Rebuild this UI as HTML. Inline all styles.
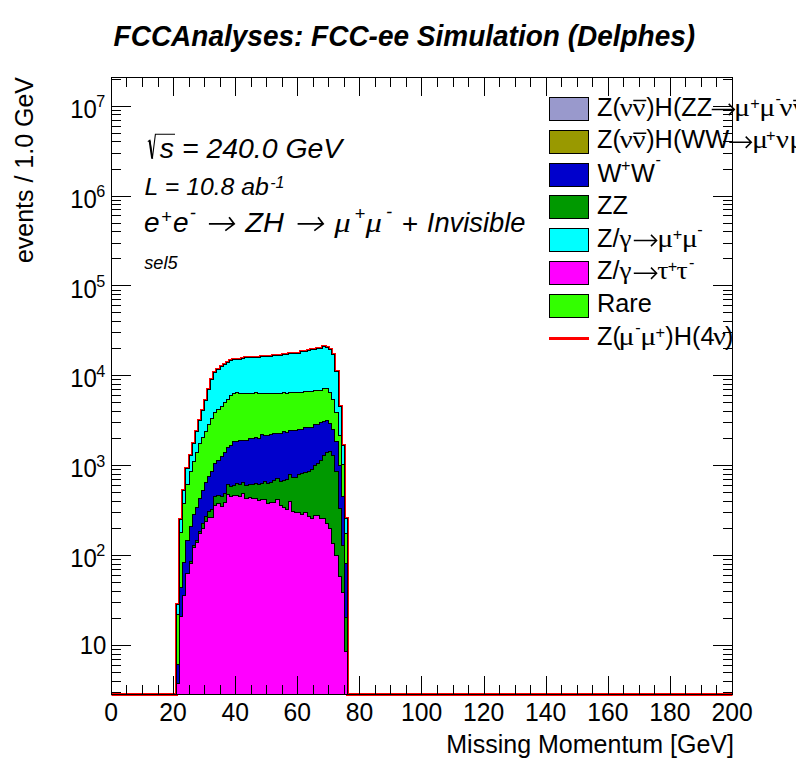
<!DOCTYPE html>
<html><head><meta charset="utf-8"><title>plot</title>
<style>html,body{margin:0;padding:0;background:#fff}body{width:796px;height:772px;position:relative;overflow:hidden;font-family:"Liberation Sans",sans-serif}</style>
</head><body>
<svg width="796" height="772" viewBox="0 0 796 772" style="position:absolute;left:0;top:0">
<rect width="796" height="772" fill="#fff"/>
<path d="M111.5,694.5 L176.5,694.5 L176.5,604.5 L179.5,604.5 L179.5,519.5 L182.5,519.5 L182.5,490.5 L185.5,490.5 L185.5,468.5 L189.5,468.5 L189.5,455.5 L192.5,455.5 L192.5,443.5 L195.5,443.5 L195.5,431.5 L198.5,431.5 L198.5,420.5 L201.5,420.5 L201.5,410.5 L204.5,410.5 L204.5,400.5 L207.5,400.5 L207.5,389.5 L210.5,389.5 L210.5,379.5 L213.5,379.5 L213.5,372.5 L216.5,372.5 L216.5,369.5 L220.5,369.5 L220.5,366.5 L223.5,366.5 L223.5,364.5 L226.5,364.5 L226.5,362.5 L229.5,362.5 L229.5,360.5 L232.5,360.5 L232.5,359.5 L235.5,359.5 L235.5,359.5 L238.5,359.5 L238.5,359.5 L241.5,359.5 L241.5,358.5 L244.5,358.5 L244.5,357.5 L248.5,357.5 L248.5,357.5 L251.5,357.5 L251.5,357.5 L254.5,357.5 L254.5,357.5 L257.5,357.5 L257.5,357.5 L260.5,357.5 L260.5,356.5 L263.5,356.5 L263.5,356.5 L266.5,356.5 L266.5,356.5 L269.5,356.5 L269.5,356.5 L272.5,356.5 L272.5,355.5 L275.5,355.5 L275.5,355.5 L279.5,355.5 L279.5,355.5 L282.5,355.5 L282.5,354.5 L285.5,354.5 L285.5,354.5 L288.5,354.5 L288.5,353.5 L291.5,353.5 L291.5,353.5 L294.5,353.5 L294.5,353.5 L297.5,353.5 L297.5,353.5 L300.5,353.5 L300.5,351.5 L303.5,351.5 L303.5,351.5 L307.5,351.5 L307.5,350.5 L310.5,350.5 L310.5,349.5 L313.5,349.5 L313.5,349.5 L316.5,349.5 L316.5,348.5 L319.5,348.5 L319.5,348.5 L322.5,348.5 L322.5,346.5 L325.5,346.5 L325.5,347.5 L328.5,347.5 L328.5,349.5 L331.5,349.5 L331.5,354.5 L334.5,354.5 L334.5,371.5 L338.5,371.5 L338.5,406.5 L341.5,406.5 L341.5,445.5 L344.5,445.5 L344.5,518.5 L347.5,518.5 L347.5,694.5 L732.5,694.5" fill="none" stroke="#ff0000" stroke-width="3" stroke-linejoin="miter"/>
<path d="M176.5,694.5 L176.5,604.5 L179.5,604.5 L179.5,519.5 L182.5,519.5 L182.5,490.5 L185.5,490.5 L185.5,468.5 L189.5,468.5 L189.5,455.5 L192.5,455.5 L192.5,443.5 L195.5,443.5 L195.5,431.5 L198.5,431.5 L198.5,420.5 L201.5,420.5 L201.5,410.5 L204.5,410.5 L204.5,400.5 L207.5,400.5 L207.5,389.5 L210.5,389.5 L210.5,379.5 L213.5,379.5 L213.5,372.5 L216.5,372.5 L216.5,369.5 L220.5,369.5 L220.5,366.5 L223.5,366.5 L223.5,364.5 L226.5,364.5 L226.5,362.5 L229.5,362.5 L229.5,360.5 L232.5,360.5 L232.5,359.5 L235.5,359.5 L235.5,359.5 L238.5,359.5 L238.5,359.5 L241.5,359.5 L241.5,358.5 L244.5,358.5 L244.5,357.5 L248.5,357.5 L248.5,357.5 L251.5,357.5 L251.5,357.5 L254.5,357.5 L254.5,357.5 L257.5,357.5 L257.5,357.5 L260.5,357.5 L260.5,356.5 L263.5,356.5 L263.5,356.5 L266.5,356.5 L266.5,356.5 L269.5,356.5 L269.5,356.5 L272.5,356.5 L272.5,355.5 L275.5,355.5 L275.5,355.5 L279.5,355.5 L279.5,355.5 L282.5,355.5 L282.5,354.5 L285.5,354.5 L285.5,354.5 L288.5,354.5 L288.5,353.5 L291.5,353.5 L291.5,353.5 L294.5,353.5 L294.5,353.5 L297.5,353.5 L297.5,353.5 L300.5,353.5 L300.5,351.5 L303.5,351.5 L303.5,351.5 L307.5,351.5 L307.5,350.5 L310.5,350.5 L310.5,349.5 L313.5,349.5 L313.5,349.5 L316.5,349.5 L316.5,348.5 L319.5,348.5 L319.5,348.5 L322.5,348.5 L322.5,346.5 L325.5,346.5 L325.5,347.5 L328.5,347.5 L328.5,349.5 L331.5,349.5 L331.5,354.5 L334.5,354.5 L334.5,371.5 L338.5,371.5 L338.5,406.5 L341.5,406.5 L341.5,445.5 L344.5,445.5 L344.5,518.5 L347.5,518.5 L347.5,694.5 Z" fill="#00ffff" stroke="#000" stroke-width="1" stroke-linejoin="miter" shape-rendering="crispEdges"/>
<path d="M176.5,694.5 L176.5,614.5 L179.5,614.5 L179.5,532.5 L182.5,532.5 L182.5,503.5 L185.5,503.5 L185.5,484.5 L189.5,484.5 L189.5,471.5 L192.5,471.5 L192.5,461.5 L195.5,461.5 L195.5,452.5 L198.5,452.5 L198.5,443.5 L201.5,443.5 L201.5,437.5 L204.5,437.5 L204.5,431.5 L207.5,431.5 L207.5,424.5 L210.5,424.5 L210.5,418.5 L213.5,418.5 L213.5,412.5 L216.5,412.5 L216.5,409.5 L220.5,409.5 L220.5,406.5 L223.5,406.5 L223.5,402.5 L226.5,402.5 L226.5,399.5 L229.5,399.5 L229.5,395.5 L232.5,395.5 L232.5,393.5 L235.5,393.5 L235.5,392.5 L238.5,392.5 L238.5,393.5 L241.5,393.5 L241.5,393.5 L244.5,393.5 L244.5,393.5 L248.5,393.5 L248.5,393.5 L251.5,393.5 L251.5,393.5 L254.5,393.5 L254.5,392.5 L257.5,392.5 L257.5,393.5 L260.5,393.5 L260.5,393.5 L263.5,393.5 L263.5,393.5 L266.5,393.5 L266.5,393.5 L269.5,393.5 L269.5,393.5 L272.5,393.5 L272.5,393.5 L275.5,393.5 L275.5,393.5 L279.5,393.5 L279.5,393.5 L282.5,393.5 L282.5,392.5 L285.5,392.5 L285.5,393.5 L288.5,393.5 L288.5,392.5 L291.5,392.5 L291.5,392.5 L294.5,392.5 L294.5,392.5 L297.5,392.5 L297.5,392.5 L300.5,392.5 L300.5,392.5 L303.5,392.5 L303.5,391.5 L307.5,391.5 L307.5,391.5 L310.5,391.5 L310.5,391.5 L313.5,391.5 L313.5,390.5 L316.5,390.5 L316.5,390.5 L319.5,390.5 L319.5,390.5 L322.5,390.5 L322.5,388.5 L325.5,388.5 L325.5,388.5 L328.5,388.5 L328.5,392.5 L331.5,392.5 L331.5,399.5 L334.5,399.5 L334.5,412.5 L338.5,412.5 L338.5,435.5 L341.5,435.5 L341.5,464.5 L344.5,464.5 L344.5,533.5 L347.5,533.5 L347.5,694.5 Z" fill="#33ff00" stroke="#000" stroke-width="1" stroke-linejoin="miter" shape-rendering="crispEdges"/>
<path d="M176.5,694.5 L176.5,664.5 L179.5,664.5 L179.5,587.5 L182.5,587.5 L182.5,562.5 L185.5,562.5 L185.5,540.5 L189.5,540.5 L189.5,526.5 L192.5,526.5 L192.5,514.5 L195.5,514.5 L195.5,507.5 L198.5,507.5 L198.5,498.5 L201.5,498.5 L201.5,490.5 L204.5,490.5 L204.5,482.5 L207.5,482.5 L207.5,476.5 L210.5,476.5 L210.5,471.5 L213.5,471.5 L213.5,463.5 L216.5,463.5 L216.5,460.5 L220.5,460.5 L220.5,456.5 L223.5,456.5 L223.5,452.5 L226.5,452.5 L226.5,447.5 L229.5,447.5 L229.5,445.5 L232.5,445.5 L232.5,441.5 L235.5,441.5 L235.5,441.5 L238.5,441.5 L238.5,440.5 L241.5,440.5 L241.5,440.5 L244.5,440.5 L244.5,440.5 L248.5,440.5 L248.5,438.5 L251.5,438.5 L251.5,438.5 L254.5,438.5 L254.5,437.5 L257.5,437.5 L257.5,438.5 L260.5,438.5 L260.5,434.5 L263.5,434.5 L263.5,435.5 L266.5,435.5 L266.5,435.5 L269.5,435.5 L269.5,434.5 L272.5,434.5 L272.5,433.5 L275.5,433.5 L275.5,433.5 L279.5,433.5 L279.5,433.5 L282.5,433.5 L282.5,431.5 L285.5,431.5 L285.5,432.5 L288.5,432.5 L288.5,430.5 L291.5,430.5 L291.5,430.5 L294.5,430.5 L294.5,430.5 L297.5,430.5 L297.5,429.5 L300.5,429.5 L300.5,429.5 L303.5,429.5 L303.5,427.5 L307.5,427.5 L307.5,427.5 L310.5,427.5 L310.5,427.5 L313.5,427.5 L313.5,424.5 L316.5,424.5 L316.5,424.5 L319.5,424.5 L319.5,422.5 L322.5,422.5 L322.5,421.5 L325.5,421.5 L325.5,420.5 L328.5,420.5 L328.5,423.5 L331.5,423.5 L331.5,429.5 L334.5,429.5 L334.5,441.5 L338.5,441.5 L338.5,465.5 L341.5,465.5 L341.5,496.5 L344.5,496.5 L344.5,563.5 L347.5,563.5 L347.5,694.5 Z" fill="#0000cc" stroke="#000" stroke-width="1" stroke-linejoin="miter" shape-rendering="crispEdges"/>
<path d="M176.5,694.5 L176.5,683.5 L179.5,683.5 L179.5,616.5 L182.5,616.5 L182.5,595.5 L185.5,595.5 L185.5,573.5 L189.5,573.5 L189.5,561.5 L192.5,561.5 L192.5,545.5 L195.5,545.5 L195.5,540.5 L198.5,540.5 L198.5,531.5 L201.5,531.5 L201.5,523.5 L204.5,523.5 L204.5,516.5 L207.5,516.5 L207.5,511.5 L210.5,511.5 L210.5,509.5 L213.5,509.5 L213.5,496.5 L216.5,496.5 L216.5,495.5 L220.5,495.5 L220.5,496.5 L223.5,496.5 L223.5,493.5 L226.5,493.5 L226.5,484.5 L229.5,484.5 L229.5,486.5 L232.5,486.5 L232.5,485.5 L235.5,485.5 L235.5,483.5 L238.5,483.5 L238.5,484.5 L241.5,484.5 L241.5,482.5 L244.5,482.5 L244.5,485.5 L248.5,485.5 L248.5,484.5 L251.5,484.5 L251.5,484.5 L254.5,484.5 L254.5,483.5 L257.5,483.5 L257.5,484.5 L260.5,484.5 L260.5,483.5 L263.5,483.5 L263.5,481.5 L266.5,481.5 L266.5,483.5 L269.5,483.5 L269.5,482.5 L272.5,482.5 L272.5,480.5 L275.5,480.5 L275.5,478.5 L279.5,478.5 L279.5,481.5 L282.5,481.5 L282.5,480.5 L285.5,480.5 L285.5,479.5 L288.5,479.5 L288.5,474.5 L291.5,474.5 L291.5,477.5 L294.5,477.5 L294.5,477.5 L297.5,477.5 L297.5,474.5 L300.5,474.5 L300.5,473.5 L303.5,473.5 L303.5,472.5 L307.5,472.5 L307.5,471.5 L310.5,471.5 L310.5,469.5 L313.5,469.5 L313.5,465.5 L316.5,465.5 L316.5,463.5 L319.5,463.5 L319.5,460.5 L322.5,460.5 L322.5,455.5 L325.5,455.5 L325.5,452.5 L328.5,452.5 L328.5,451.5 L331.5,451.5 L331.5,455.5 L334.5,455.5 L334.5,471.5 L338.5,471.5 L338.5,508.5 L341.5,508.5 L341.5,545.5 L344.5,545.5 L344.5,617.5 L347.5,617.5 L347.5,694.5 Z" fill="#009900" stroke="#000" stroke-width="1" stroke-linejoin="miter" shape-rendering="crispEdges"/>
<path d="M176.5,694.5 L176.5,683.5 L179.5,683.5 L179.5,616.5 L182.5,616.5 L182.5,595.5 L185.5,595.5 L185.5,573.5 L189.5,573.5 L189.5,563.5 L192.5,563.5 L192.5,547.5 L195.5,547.5 L195.5,542.5 L198.5,542.5 L198.5,533.5 L201.5,533.5 L201.5,528.5 L204.5,528.5 L204.5,521.5 L207.5,521.5 L207.5,517.5 L210.5,517.5 L210.5,517.5 L213.5,517.5 L213.5,505.5 L216.5,505.5 L216.5,503.5 L220.5,503.5 L220.5,506.5 L223.5,506.5 L223.5,502.5 L226.5,502.5 L226.5,494.5 L229.5,494.5 L229.5,496.5 L232.5,496.5 L232.5,495.5 L235.5,495.5 L235.5,495.5 L238.5,495.5 L238.5,496.5 L241.5,496.5 L241.5,493.5 L244.5,493.5 L244.5,498.5 L248.5,498.5 L248.5,497.5 L251.5,497.5 L251.5,498.5 L254.5,498.5 L254.5,498.5 L257.5,498.5 L257.5,500.5 L260.5,500.5 L260.5,499.5 L263.5,499.5 L263.5,499.5 L266.5,499.5 L266.5,503.5 L269.5,503.5 L269.5,502.5 L272.5,502.5 L272.5,502.5 L275.5,502.5 L275.5,499.5 L279.5,499.5 L279.5,505.5 L282.5,505.5 L282.5,507.5 L285.5,507.5 L285.5,509.5 L288.5,509.5 L288.5,501.5 L291.5,501.5 L291.5,511.5 L294.5,511.5 L294.5,512.5 L297.5,512.5 L297.5,512.5 L300.5,512.5 L300.5,514.5 L303.5,514.5 L303.5,512.5 L307.5,512.5 L307.5,516.5 L310.5,516.5 L310.5,518.5 L313.5,518.5 L313.5,515.5 L316.5,515.5 L316.5,515.5 L319.5,515.5 L319.5,518.5 L322.5,518.5 L322.5,518.5 L325.5,518.5 L325.5,523.5 L328.5,523.5 L328.5,528.5 L331.5,528.5 L331.5,543.5 L334.5,543.5 L334.5,555.5 L338.5,555.5 L338.5,576.5 L341.5,576.5 L341.5,592.5 L344.5,592.5 L344.5,651.5 L347.5,651.5 L347.5,694.5 Z" fill="#ff00ff" stroke="#000" stroke-width="1" stroke-linejoin="miter" shape-rendering="crispEdges"/>
<g stroke="#000" stroke-width="1" fill="none" shape-rendering="crispEdges">
<rect x="111.5" y="77.5" width="621.0" height="617.0"/>
<line x1="111.5" y1="694.5" x2="111.5" y2="675.5"/>
<line x1="111.5" y1="77.5" x2="111.5" y2="95.5"/>
<line x1="126.5" y1="694.5" x2="126.5" y2="684.5"/>
<line x1="126.5" y1="77.5" x2="126.5" y2="86.5"/>
<line x1="142.5" y1="694.5" x2="142.5" y2="684.5"/>
<line x1="142.5" y1="77.5" x2="142.5" y2="86.5"/>
<line x1="158.5" y1="694.5" x2="158.5" y2="684.5"/>
<line x1="158.5" y1="77.5" x2="158.5" y2="86.5"/>
<line x1="173.5" y1="694.5" x2="173.5" y2="675.5"/>
<line x1="173.5" y1="77.5" x2="173.5" y2="95.5"/>
<line x1="189.5" y1="694.5" x2="189.5" y2="684.5"/>
<line x1="189.5" y1="77.5" x2="189.5" y2="86.5"/>
<line x1="204.5" y1="694.5" x2="204.5" y2="684.5"/>
<line x1="204.5" y1="77.5" x2="204.5" y2="86.5"/>
<line x1="220.5" y1="694.5" x2="220.5" y2="684.5"/>
<line x1="220.5" y1="77.5" x2="220.5" y2="86.5"/>
<line x1="235.5" y1="694.5" x2="235.5" y2="675.5"/>
<line x1="235.5" y1="77.5" x2="235.5" y2="95.5"/>
<line x1="251.5" y1="694.5" x2="251.5" y2="684.5"/>
<line x1="251.5" y1="77.5" x2="251.5" y2="86.5"/>
<line x1="266.5" y1="694.5" x2="266.5" y2="684.5"/>
<line x1="266.5" y1="77.5" x2="266.5" y2="86.5"/>
<line x1="282.5" y1="694.5" x2="282.5" y2="684.5"/>
<line x1="282.5" y1="77.5" x2="282.5" y2="86.5"/>
<line x1="297.5" y1="694.5" x2="297.5" y2="675.5"/>
<line x1="297.5" y1="77.5" x2="297.5" y2="95.5"/>
<line x1="313.5" y1="694.5" x2="313.5" y2="684.5"/>
<line x1="313.5" y1="77.5" x2="313.5" y2="86.5"/>
<line x1="328.5" y1="694.5" x2="328.5" y2="684.5"/>
<line x1="328.5" y1="77.5" x2="328.5" y2="86.5"/>
<line x1="344.5" y1="694.5" x2="344.5" y2="684.5"/>
<line x1="344.5" y1="77.5" x2="344.5" y2="86.5"/>
<line x1="359.5" y1="694.5" x2="359.5" y2="675.5"/>
<line x1="359.5" y1="77.5" x2="359.5" y2="95.5"/>
<line x1="375.5" y1="694.5" x2="375.5" y2="684.5"/>
<line x1="375.5" y1="77.5" x2="375.5" y2="86.5"/>
<line x1="390.5" y1="694.5" x2="390.5" y2="684.5"/>
<line x1="390.5" y1="77.5" x2="390.5" y2="86.5"/>
<line x1="406.5" y1="694.5" x2="406.5" y2="684.5"/>
<line x1="406.5" y1="77.5" x2="406.5" y2="86.5"/>
<line x1="421.5" y1="694.5" x2="421.5" y2="675.5"/>
<line x1="421.5" y1="77.5" x2="421.5" y2="95.5"/>
<line x1="437.5" y1="694.5" x2="437.5" y2="684.5"/>
<line x1="437.5" y1="77.5" x2="437.5" y2="86.5"/>
<line x1="453.5" y1="694.5" x2="453.5" y2="684.5"/>
<line x1="453.5" y1="77.5" x2="453.5" y2="86.5"/>
<line x1="468.5" y1="694.5" x2="468.5" y2="684.5"/>
<line x1="468.5" y1="77.5" x2="468.5" y2="86.5"/>
<line x1="484.5" y1="694.5" x2="484.5" y2="675.5"/>
<line x1="484.5" y1="77.5" x2="484.5" y2="95.5"/>
<line x1="499.5" y1="694.5" x2="499.5" y2="684.5"/>
<line x1="499.5" y1="77.5" x2="499.5" y2="86.5"/>
<line x1="515.5" y1="694.5" x2="515.5" y2="684.5"/>
<line x1="515.5" y1="77.5" x2="515.5" y2="86.5"/>
<line x1="530.5" y1="694.5" x2="530.5" y2="684.5"/>
<line x1="530.5" y1="77.5" x2="530.5" y2="86.5"/>
<line x1="546.5" y1="694.5" x2="546.5" y2="675.5"/>
<line x1="546.5" y1="77.5" x2="546.5" y2="95.5"/>
<line x1="561.5" y1="694.5" x2="561.5" y2="684.5"/>
<line x1="561.5" y1="77.5" x2="561.5" y2="86.5"/>
<line x1="577.5" y1="694.5" x2="577.5" y2="684.5"/>
<line x1="577.5" y1="77.5" x2="577.5" y2="86.5"/>
<line x1="592.5" y1="694.5" x2="592.5" y2="684.5"/>
<line x1="592.5" y1="77.5" x2="592.5" y2="86.5"/>
<line x1="608.5" y1="694.5" x2="608.5" y2="675.5"/>
<line x1="608.5" y1="77.5" x2="608.5" y2="95.5"/>
<line x1="623.5" y1="694.5" x2="623.5" y2="684.5"/>
<line x1="623.5" y1="77.5" x2="623.5" y2="86.5"/>
<line x1="639.5" y1="694.5" x2="639.5" y2="684.5"/>
<line x1="639.5" y1="77.5" x2="639.5" y2="86.5"/>
<line x1="654.5" y1="694.5" x2="654.5" y2="684.5"/>
<line x1="654.5" y1="77.5" x2="654.5" y2="86.5"/>
<line x1="670.5" y1="694.5" x2="670.5" y2="675.5"/>
<line x1="670.5" y1="77.5" x2="670.5" y2="95.5"/>
<line x1="685.5" y1="694.5" x2="685.5" y2="684.5"/>
<line x1="685.5" y1="77.5" x2="685.5" y2="86.5"/>
<line x1="701.5" y1="694.5" x2="701.5" y2="684.5"/>
<line x1="701.5" y1="77.5" x2="701.5" y2="86.5"/>
<line x1="716.5" y1="694.5" x2="716.5" y2="684.5"/>
<line x1="716.5" y1="77.5" x2="716.5" y2="86.5"/>
<line x1="732.5" y1="694.5" x2="732.5" y2="675.5"/>
<line x1="732.5" y1="77.5" x2="732.5" y2="95.5"/>
<line x1="111.5" y1="692.5" x2="120.5" y2="692.5"/>
<line x1="732.5" y1="692.5" x2="722.5" y2="692.5"/>
<line x1="111.5" y1="681.5" x2="120.5" y2="681.5"/>
<line x1="732.5" y1="681.5" x2="722.5" y2="681.5"/>
<line x1="111.5" y1="672.5" x2="120.5" y2="672.5"/>
<line x1="732.5" y1="672.5" x2="722.5" y2="672.5"/>
<line x1="111.5" y1="665.5" x2="120.5" y2="665.5"/>
<line x1="732.5" y1="665.5" x2="722.5" y2="665.5"/>
<line x1="111.5" y1="659.5" x2="120.5" y2="659.5"/>
<line x1="732.5" y1="659.5" x2="722.5" y2="659.5"/>
<line x1="111.5" y1="654.5" x2="120.5" y2="654.5"/>
<line x1="732.5" y1="654.5" x2="722.5" y2="654.5"/>
<line x1="111.5" y1="649.5" x2="120.5" y2="649.5"/>
<line x1="732.5" y1="649.5" x2="722.5" y2="649.5"/>
<line x1="111.5" y1="645.5" x2="130.5" y2="645.5"/>
<line x1="732.5" y1="645.5" x2="712.5" y2="645.5"/>
<line x1="111.5" y1="618.5" x2="120.5" y2="618.5"/>
<line x1="732.5" y1="618.5" x2="722.5" y2="618.5"/>
<line x1="111.5" y1="602.5" x2="120.5" y2="602.5"/>
<line x1="732.5" y1="602.5" x2="722.5" y2="602.5"/>
<line x1="111.5" y1="591.5" x2="120.5" y2="591.5"/>
<line x1="732.5" y1="591.5" x2="722.5" y2="591.5"/>
<line x1="111.5" y1="582.5" x2="120.5" y2="582.5"/>
<line x1="732.5" y1="582.5" x2="722.5" y2="582.5"/>
<line x1="111.5" y1="575.5" x2="120.5" y2="575.5"/>
<line x1="732.5" y1="575.5" x2="722.5" y2="575.5"/>
<line x1="111.5" y1="569.5" x2="120.5" y2="569.5"/>
<line x1="732.5" y1="569.5" x2="722.5" y2="569.5"/>
<line x1="111.5" y1="564.5" x2="120.5" y2="564.5"/>
<line x1="732.5" y1="564.5" x2="722.5" y2="564.5"/>
<line x1="111.5" y1="559.5" x2="120.5" y2="559.5"/>
<line x1="732.5" y1="559.5" x2="722.5" y2="559.5"/>
<line x1="111.5" y1="555.5" x2="130.5" y2="555.5"/>
<line x1="732.5" y1="555.5" x2="712.5" y2="555.5"/>
<line x1="111.5" y1="528.5" x2="120.5" y2="528.5"/>
<line x1="732.5" y1="528.5" x2="722.5" y2="528.5"/>
<line x1="111.5" y1="512.5" x2="120.5" y2="512.5"/>
<line x1="732.5" y1="512.5" x2="722.5" y2="512.5"/>
<line x1="111.5" y1="501.5" x2="120.5" y2="501.5"/>
<line x1="732.5" y1="501.5" x2="722.5" y2="501.5"/>
<line x1="111.5" y1="492.5" x2="120.5" y2="492.5"/>
<line x1="732.5" y1="492.5" x2="722.5" y2="492.5"/>
<line x1="111.5" y1="485.5" x2="120.5" y2="485.5"/>
<line x1="732.5" y1="485.5" x2="722.5" y2="485.5"/>
<line x1="111.5" y1="479.5" x2="120.5" y2="479.5"/>
<line x1="732.5" y1="479.5" x2="722.5" y2="479.5"/>
<line x1="111.5" y1="474.5" x2="120.5" y2="474.5"/>
<line x1="732.5" y1="474.5" x2="722.5" y2="474.5"/>
<line x1="111.5" y1="469.5" x2="120.5" y2="469.5"/>
<line x1="732.5" y1="469.5" x2="722.5" y2="469.5"/>
<line x1="111.5" y1="465.5" x2="130.5" y2="465.5"/>
<line x1="732.5" y1="465.5" x2="712.5" y2="465.5"/>
<line x1="111.5" y1="438.5" x2="120.5" y2="438.5"/>
<line x1="732.5" y1="438.5" x2="722.5" y2="438.5"/>
<line x1="111.5" y1="422.5" x2="120.5" y2="422.5"/>
<line x1="732.5" y1="422.5" x2="722.5" y2="422.5"/>
<line x1="111.5" y1="411.5" x2="120.5" y2="411.5"/>
<line x1="732.5" y1="411.5" x2="722.5" y2="411.5"/>
<line x1="111.5" y1="402.5" x2="120.5" y2="402.5"/>
<line x1="732.5" y1="402.5" x2="722.5" y2="402.5"/>
<line x1="111.5" y1="395.5" x2="120.5" y2="395.5"/>
<line x1="732.5" y1="395.5" x2="722.5" y2="395.5"/>
<line x1="111.5" y1="389.5" x2="120.5" y2="389.5"/>
<line x1="732.5" y1="389.5" x2="722.5" y2="389.5"/>
<line x1="111.5" y1="384.5" x2="120.5" y2="384.5"/>
<line x1="732.5" y1="384.5" x2="722.5" y2="384.5"/>
<line x1="111.5" y1="379.5" x2="120.5" y2="379.5"/>
<line x1="732.5" y1="379.5" x2="722.5" y2="379.5"/>
<line x1="111.5" y1="375.5" x2="130.5" y2="375.5"/>
<line x1="732.5" y1="375.5" x2="712.5" y2="375.5"/>
<line x1="111.5" y1="348.5" x2="120.5" y2="348.5"/>
<line x1="732.5" y1="348.5" x2="722.5" y2="348.5"/>
<line x1="111.5" y1="332.5" x2="120.5" y2="332.5"/>
<line x1="732.5" y1="332.5" x2="722.5" y2="332.5"/>
<line x1="111.5" y1="321.5" x2="120.5" y2="321.5"/>
<line x1="732.5" y1="321.5" x2="722.5" y2="321.5"/>
<line x1="111.5" y1="312.5" x2="120.5" y2="312.5"/>
<line x1="732.5" y1="312.5" x2="722.5" y2="312.5"/>
<line x1="111.5" y1="305.5" x2="120.5" y2="305.5"/>
<line x1="732.5" y1="305.5" x2="722.5" y2="305.5"/>
<line x1="111.5" y1="299.5" x2="120.5" y2="299.5"/>
<line x1="732.5" y1="299.5" x2="722.5" y2="299.5"/>
<line x1="111.5" y1="294.5" x2="120.5" y2="294.5"/>
<line x1="732.5" y1="294.5" x2="722.5" y2="294.5"/>
<line x1="111.5" y1="290.5" x2="120.5" y2="290.5"/>
<line x1="732.5" y1="290.5" x2="722.5" y2="290.5"/>
<line x1="111.5" y1="285.5" x2="130.5" y2="285.5"/>
<line x1="732.5" y1="285.5" x2="712.5" y2="285.5"/>
<line x1="111.5" y1="258.5" x2="120.5" y2="258.5"/>
<line x1="732.5" y1="258.5" x2="722.5" y2="258.5"/>
<line x1="111.5" y1="243.5" x2="120.5" y2="243.5"/>
<line x1="732.5" y1="243.5" x2="722.5" y2="243.5"/>
<line x1="111.5" y1="231.5" x2="120.5" y2="231.5"/>
<line x1="732.5" y1="231.5" x2="722.5" y2="231.5"/>
<line x1="111.5" y1="223.5" x2="120.5" y2="223.5"/>
<line x1="732.5" y1="223.5" x2="722.5" y2="223.5"/>
<line x1="111.5" y1="215.5" x2="120.5" y2="215.5"/>
<line x1="732.5" y1="215.5" x2="722.5" y2="215.5"/>
<line x1="111.5" y1="209.5" x2="120.5" y2="209.5"/>
<line x1="732.5" y1="209.5" x2="722.5" y2="209.5"/>
<line x1="111.5" y1="204.5" x2="120.5" y2="204.5"/>
<line x1="732.5" y1="204.5" x2="722.5" y2="204.5"/>
<line x1="111.5" y1="200.5" x2="120.5" y2="200.5"/>
<line x1="732.5" y1="200.5" x2="722.5" y2="200.5"/>
<line x1="111.5" y1="196.5" x2="130.5" y2="196.5"/>
<line x1="732.5" y1="196.5" x2="712.5" y2="196.5"/>
<line x1="111.5" y1="169.5" x2="120.5" y2="169.5"/>
<line x1="732.5" y1="169.5" x2="722.5" y2="169.5"/>
<line x1="111.5" y1="153.5" x2="120.5" y2="153.5"/>
<line x1="732.5" y1="153.5" x2="722.5" y2="153.5"/>
<line x1="111.5" y1="141.5" x2="120.5" y2="141.5"/>
<line x1="732.5" y1="141.5" x2="722.5" y2="141.5"/>
<line x1="111.5" y1="133.5" x2="120.5" y2="133.5"/>
<line x1="732.5" y1="133.5" x2="722.5" y2="133.5"/>
<line x1="111.5" y1="126.5" x2="120.5" y2="126.5"/>
<line x1="732.5" y1="126.5" x2="722.5" y2="126.5"/>
<line x1="111.5" y1="120.5" x2="120.5" y2="120.5"/>
<line x1="732.5" y1="120.5" x2="722.5" y2="120.5"/>
<line x1="111.5" y1="114.5" x2="120.5" y2="114.5"/>
<line x1="732.5" y1="114.5" x2="722.5" y2="114.5"/>
<line x1="111.5" y1="110.5" x2="120.5" y2="110.5"/>
<line x1="732.5" y1="110.5" x2="722.5" y2="110.5"/>
<line x1="111.5" y1="106.5" x2="130.5" y2="106.5"/>
<line x1="732.5" y1="106.5" x2="712.5" y2="106.5"/>
<line x1="111.5" y1="79.5" x2="120.5" y2="79.5"/>
<line x1="732.5" y1="79.5" x2="722.5" y2="79.5"/>
</g>
<g font-family="'Liberation Sans', sans-serif" fill="#000">
<text transform="translate(113.60,45.90) scale(0.9587,1)" font-size="29.20" text-anchor="start" font-weight="bold" font-style="italic">FCCAnalyses: FCC-ee Simulation (Delphes)</text>
<text transform="translate(111.00,721.00) scale(0.9400,1)" font-size="26.30" text-anchor="middle" >0</text>
<text transform="translate(173.10,721.00) scale(0.9400,1)" font-size="26.30" text-anchor="middle" >20</text>
<text transform="translate(235.20,721.00) scale(0.9400,1)" font-size="26.30" text-anchor="middle" >40</text>
<text transform="translate(297.30,721.00) scale(0.9400,1)" font-size="26.30" text-anchor="middle" >60</text>
<text transform="translate(359.40,721.00) scale(0.9400,1)" font-size="26.30" text-anchor="middle" >80</text>
<text transform="translate(421.50,721.00) scale(0.9400,1)" font-size="26.30" text-anchor="middle" >100</text>
<text transform="translate(483.60,721.00) scale(0.9400,1)" font-size="26.30" text-anchor="middle" >120</text>
<text transform="translate(545.70,721.00) scale(0.9400,1)" font-size="26.30" text-anchor="middle" >140</text>
<text transform="translate(607.80,721.00) scale(0.9400,1)" font-size="26.30" text-anchor="middle" >160</text>
<text transform="translate(669.90,721.00) scale(0.9400,1)" font-size="26.30" text-anchor="middle" >180</text>
<text transform="translate(732.00,721.00) scale(0.9400,1)" font-size="26.30" text-anchor="middle" >200</text>
<text transform="translate(734.00,752.90) scale(0.9515,1)" font-size="26.30" text-anchor="end" >Missing Momentum [GeV]</text>
<text transform="translate(32.80,77.00) rotate(-90) scale(0.9500,1)" font-size="26.30" text-anchor="end" >events / 1.0 GeV</text>
<text transform="translate(106.30,653.90) scale(0.9400,1)" font-size="25.50" text-anchor="end" >10</text>
<text transform="translate(96.80,567.15) scale(0.9400,1)" font-size="25.50" text-anchor="end" >10</text>
<text transform="translate(96.30,556.35) scale(0.9400,1)" font-size="17.20" text-anchor="start" >2</text>
<text transform="translate(96.80,477.30) scale(0.9400,1)" font-size="25.50" text-anchor="end" >10</text>
<text transform="translate(96.30,466.50) scale(0.9400,1)" font-size="17.20" text-anchor="start" >3</text>
<text transform="translate(96.80,387.45) scale(0.9400,1)" font-size="25.50" text-anchor="end" >10</text>
<text transform="translate(96.30,376.65) scale(0.9400,1)" font-size="17.20" text-anchor="start" >4</text>
<text transform="translate(96.80,297.60) scale(0.9400,1)" font-size="25.50" text-anchor="end" >10</text>
<text transform="translate(96.30,286.80) scale(0.9400,1)" font-size="17.20" text-anchor="start" >5</text>
<text transform="translate(96.80,207.75) scale(0.9400,1)" font-size="25.50" text-anchor="end" >10</text>
<text transform="translate(96.30,196.95) scale(0.9400,1)" font-size="17.20" text-anchor="start" >6</text>
<text transform="translate(96.80,117.90) scale(0.9400,1)" font-size="25.50" text-anchor="end" >10</text>
<text transform="translate(96.30,107.10) scale(0.9400,1)" font-size="17.20" text-anchor="start" >7</text>
<text transform="translate(159.80,157.90) scale(1.0150,1)" font-size="28.00" text-anchor="start" font-style="italic">s = 240.0 GeV</text>
<path d="M147.8,141.6 L149.8,140.3 L152.3,158.8 L155.4,134.3 L175,134.3" fill="none" stroke="#000" stroke-width="1.1"/>
<path d="M149.6,140.6 L152.2,158.6" fill="none" stroke="#000" stroke-width="2"/>
<text transform="translate(144.60,195.20) scale(1.0200,1)" font-size="24.30" text-anchor="start" font-style="italic">L = 10.8 ab</text>
<text transform="translate(270.20,187.70)" font-size="16.00" text-anchor="start" font-style="italic">-1</text>
<text transform="translate(144.00,231.50)" font-size="28.00" text-anchor="start" font-style="italic">e</text>
<text transform="translate(160.90,222.80)" font-size="18.30" text-anchor="start" font-style="italic">+</text>
<text transform="translate(172.90,231.50)" font-size="28.00" text-anchor="start" font-style="italic">e</text>
<text transform="translate(189.80,218.80)" font-size="18.30" text-anchor="start" font-style="italic">-</text>
<path d="M208.90,223.90 H233.80 M229.08,217.20 L234.20,223.90 L225.32,230.60" fill="none" stroke="#000" stroke-width="1.70" stroke-linejoin="miter" stroke-linecap="butt"/>
<text transform="translate(245.20,231.50) scale(1.0350,1)" font-size="28.00" text-anchor="start" font-style="italic">ZH</text>
<path d="M297.60,223.90 H322.80 M318.08,217.20 L323.20,223.90 L314.32,230.60" fill="none" stroke="#000" stroke-width="1.70" stroke-linejoin="miter" stroke-linecap="butt"/>
<text transform="translate(334.30,231.50) scale(1.1700,1)" font-size="28.00" text-anchor="start" font-style="italic" font-family="'Liberation Serif', serif">μ</text>
<text transform="translate(354.60,220.30)" font-size="18.30" text-anchor="start" font-style="italic">+</text>
<text transform="translate(365.40,231.50) scale(1.1700,1)" font-size="28.00" text-anchor="start" font-style="italic" font-family="'Liberation Serif', serif">μ</text>
<text transform="translate(386.00,218.20)" font-size="18.30" text-anchor="start" font-style="italic">-</text>
<text transform="translate(401.60,233.20)" font-size="28.00" text-anchor="start" font-style="italic">+</text>
<text transform="translate(426.80,231.50) scale(0.9750,1)" font-size="28.00" text-anchor="start" font-style="italic">Invisible</text>
<text transform="translate(144.20,268.70)" font-size="18.20" text-anchor="start" font-style="italic">sel5</text>
<rect x="549.5" y="97.5" width="39" height="23" fill="#9999cc" stroke="#000" stroke-width="1" shape-rendering="crispEdges"/>
<rect x="549.5" y="130.5" width="39" height="23" fill="#999900" stroke="#000" stroke-width="1" shape-rendering="crispEdges"/>
<rect x="549.5" y="163.5" width="39" height="23" fill="#0000cc" stroke="#000" stroke-width="1" shape-rendering="crispEdges"/>
<rect x="549.5" y="195.5" width="39" height="23" fill="#009900" stroke="#000" stroke-width="1" shape-rendering="crispEdges"/>
<rect x="549.5" y="228.5" width="39" height="23" fill="#00ffff" stroke="#000" stroke-width="1" shape-rendering="crispEdges"/>
<rect x="549.5" y="261.5" width="39" height="23" fill="#ff00ff" stroke="#000" stroke-width="1" shape-rendering="crispEdges"/>
<rect x="549.5" y="294.5" width="39" height="23" fill="#33ff00" stroke="#000" stroke-width="1" shape-rendering="crispEdges"/>
<rect x="549" y="337" width="40" height="3" fill="#ff0000"/>
<text transform="translate(597.00,115.50)" font-size="25.30" text-anchor="start" >Z(</text>
<text transform="translate(619.70,115.50) scale(1.1500,1)" font-size="24.79" text-anchor="start" font-family="'Liberation Serif', serif">ν</text>
<text transform="translate(632.50,115.50) scale(1.1500,1)" font-size="24.79" text-anchor="start" font-family="'Liberation Serif', serif">ν</text>
<path d="M633.3,100.50 H646.3" stroke="#000" stroke-width="1.5" fill="none"/>
<text transform="translate(646.20,115.50)" font-size="25.30" text-anchor="start" >)H(ZZ</text>
<path d="M711.70,109.50 H733.90 M728.70,103.90 L734.30,109.50 L728.70,115.10" fill="none" stroke="#000" stroke-width="1.50" stroke-linejoin="miter" stroke-linecap="butt"/>
<text transform="translate(733.90,115.50) scale(1.1800,1)" font-size="25.30" text-anchor="start" font-family="'Liberation Serif', serif">μ</text>
<text transform="translate(750.20,108.70)" font-size="16.30" text-anchor="start" >+</text>
<text transform="translate(759.30,115.50) scale(1.1800,1)" font-size="25.30" text-anchor="start" font-family="'Liberation Serif', serif">μ</text>
<text transform="translate(775.50,103.90)" font-size="16.30" text-anchor="start" >-</text>
<text transform="translate(779.60,115.50) scale(1.1500,1)" font-size="24.79" text-anchor="start" font-family="'Liberation Serif', serif">ν</text>
<text transform="translate(792.90,115.50) scale(1.1500,1)" font-size="24.79" text-anchor="start" font-family="'Liberation Serif', serif">ν</text>
<path d="M793.2,100.50 H806.0" stroke="#000" stroke-width="1.5" fill="none"/>
<text transform="translate(597.00,148.25)" font-size="25.30" text-anchor="start" >Z(</text>
<text transform="translate(619.70,148.25) scale(1.1500,1)" font-size="24.79" text-anchor="start" font-family="'Liberation Serif', serif">ν</text>
<text transform="translate(632.50,148.25) scale(1.1500,1)" font-size="24.79" text-anchor="start" font-family="'Liberation Serif', serif">ν</text>
<path d="M633.3,133.25 H646.3" stroke="#000" stroke-width="1.5" fill="none"/>
<text transform="translate(646.20,148.25)" font-size="25.30" text-anchor="start" >)H(WW</text>
<path d="M729.30,142.25 H750.90 M745.70,136.65 L751.30,142.25 L745.70,147.85" fill="none" stroke="#000" stroke-width="1.50" stroke-linejoin="miter" stroke-linecap="butt"/>
<text transform="translate(752.00,148.25) scale(1.1800,1)" font-size="25.30" text-anchor="start" font-family="'Liberation Serif', serif">μ</text>
<text transform="translate(766.00,141.45)" font-size="16.30" text-anchor="start" >+</text>
<text transform="translate(776.00,148.25) scale(1.1500,1)" font-size="24.79" text-anchor="start" font-family="'Liberation Serif', serif">ν</text>
<text transform="translate(789.20,148.25) scale(1.1800,1)" font-size="25.30" text-anchor="start" font-family="'Liberation Serif', serif">μ</text>
<text transform="translate(597.40,181.50)" font-size="25.30" text-anchor="start" >W</text>
<text transform="translate(621.00,171.40)" font-size="16.30" text-anchor="start" >+</text>
<text transform="translate(631.10,181.50)" font-size="25.30" text-anchor="start" >W</text>
<text transform="translate(655.40,165.40)" font-size="16.30" text-anchor="start" >-</text>
<text transform="translate(597.00,213.75)" font-size="25.30" text-anchor="start" >ZZ</text>
<text transform="translate(597.00,246.50)" font-size="25.30" text-anchor="start" >Z/</text>
<text transform="translate(619.60,246.50) scale(1.0700,1)" font-size="25.30" text-anchor="start" font-family="'Liberation Serif', serif">γ</text>
<path d="M633.80,240.50 H656.20 M651.00,234.90 L656.60,240.50 L651.00,246.10" fill="none" stroke="#000" stroke-width="1.50" stroke-linejoin="miter" stroke-linecap="butt"/>
<text transform="translate(657.20,246.50) scale(1.1800,1)" font-size="25.30" text-anchor="start" font-family="'Liberation Serif', serif">μ</text>
<text transform="translate(672.80,239.70)" font-size="16.30" text-anchor="start" >+</text>
<text transform="translate(681.70,246.50) scale(1.1800,1)" font-size="25.30" text-anchor="start" font-family="'Liberation Serif', serif">μ</text>
<text transform="translate(697.20,234.90)" font-size="16.30" text-anchor="start" >-</text>
<text transform="translate(597.00,279.25)" font-size="25.30" text-anchor="start" >Z/</text>
<text transform="translate(619.60,279.25) scale(1.0700,1)" font-size="25.30" text-anchor="start" font-family="'Liberation Serif', serif">γ</text>
<path d="M633.80,273.25 H656.20 M651.00,267.65 L656.60,273.25 L651.00,278.85" fill="none" stroke="#000" stroke-width="1.50" stroke-linejoin="miter" stroke-linecap="butt"/>
<text transform="translate(657.20,279.25) scale(1.1000,1)" font-size="25.30" text-anchor="start" font-family="'Liberation Serif', serif">τ</text>
<text transform="translate(667.70,272.45)" font-size="16.30" text-anchor="start" >+</text>
<text transform="translate(676.60,279.25) scale(1.1000,1)" font-size="25.30" text-anchor="start" font-family="'Liberation Serif', serif">τ</text>
<text transform="translate(688.90,267.65)" font-size="16.30" text-anchor="start" >-</text>
<text transform="translate(597.00,312.00)" font-size="25.30" text-anchor="start" >Rare</text>
<text transform="translate(597.00,344.75)" font-size="25.30" text-anchor="start" >Z(</text>
<text transform="translate(618.60,344.75) scale(1.1800,1)" font-size="25.30" text-anchor="start" font-family="'Liberation Serif', serif">μ</text>
<text transform="translate(635.20,333.15)" font-size="16.30" text-anchor="start" >-</text>
<text transform="translate(640.30,344.75) scale(1.1800,1)" font-size="25.30" text-anchor="start" font-family="'Liberation Serif', serif">μ</text>
<text transform="translate(655.50,337.95)" font-size="16.30" text-anchor="start" >+</text>
<text transform="translate(665.30,344.75)" font-size="25.30" text-anchor="start" >)H(4</text>
<text transform="translate(713.00,344.75) scale(1.1500,1)" font-size="24.79" text-anchor="start" font-family="'Liberation Serif', serif">ν</text>
<text transform="translate(725.00,344.75)" font-size="25.30" text-anchor="start" >)</text>
</g>
</svg>
</body></html>
